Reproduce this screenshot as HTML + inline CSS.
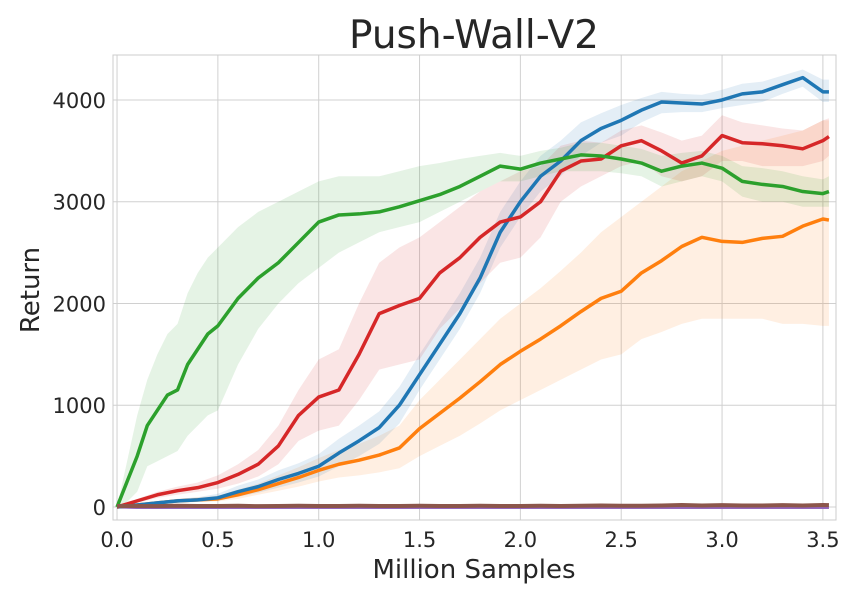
<!DOCTYPE html>
<html><head><meta charset="utf-8"><style>
body{margin:0;background:#fff;}
svg text{font-family:"DejaVu Sans","Liberation Sans",sans-serif;fill:#262626;}
</style></head><body>
<svg id="chart" width="850" height="600" xmlns="http://www.w3.org/2000/svg">
<text x="474" y="48" font-size="39" text-anchor="middle">Push-Wall-V2</text>
<g id="grid"></g><g id="bands"></g><g id="lines"></g><g id="ticks"></g>
<rect x="113" y="55" width="723" height="465" fill="none" stroke="#ccc" stroke-width="1"/>
<text x="474" y="578" font-size="26" text-anchor="middle">Million Samples</text>
<text transform="translate(39,290) rotate(-90)" font-size="26" text-anchor="middle">Return</text>
</svg>
<script>
const xTicks=[0,0.5,1.0,1.5,2.0,2.5,3.0,3.5];
const yTicks=[0,1000,2000,3000,4000];
const xsStd=[0,0.1,0.2,0.3,0.4,0.5,0.6,0.7,0.8,0.9,1.0,1.1,1.2,1.3,1.4,1.5,1.6,1.7,1.8,1.9,2.0,2.1,2.2,2.3,2.4,2.5,2.6,2.7,2.8,2.9,3.0,3.1,3.2,3.3,3.4,3.5,3.53];
const blueMean=[0,20,40,60,70,90,150,200,270,330,400,530,650,780,1000,1300,1600,1900,2250,2700,3000,3250,3400,3600,3720,3800,3900,3980,3970,3960,4000,4060,4080,4150,4220,4080,4080];
const blueLo=[0,10,25,40,50,60,100,140,190,240,300,400,500,620,820,1150,1450,1750,2100,2550,2850,3100,3250,3450,3580,3650,3780,3870,3880,3880,3920,3950,3980,4060,4130,3980,3980];
const blueHi=[0,30,55,80,95,130,210,270,360,430,520,670,800,940,1180,1500,1800,2100,2450,2900,3200,3450,3600,3780,3870,3950,4020,4080,4060,4050,4100,4160,4180,4240,4300,4200,4200];
const orangeMean=[0,20,40,60,70,80,120,170,230,290,360,420,460,510,580,770,920,1070,1230,1400,1530,1650,1780,1920,2050,2120,2300,2420,2560,2650,2610,2600,2640,2660,2760,2830,2820];
const orangeLo=[0,10,25,40,50,55,80,120,160,200,250,290,310,340,380,500,600,700,820,950,1050,1150,1250,1350,1450,1500,1650,1720,1800,1850,1850,1850,1850,1800,1800,1780,1780];
const orangeHi=[0,30,55,80,95,110,170,230,310,390,480,560,620,700,800,1050,1250,1450,1650,1850,2000,2150,2320,2500,2700,2850,3000,3150,3300,3400,3500,3550,3600,3650,3700,3800,3800];
const redMean=[0,60,120,160,190,240,320,420,600,900,1080,1150,1500,1900,1980,2050,2300,2450,2650,2800,2850,3000,3300,3400,3420,3550,3600,3500,3380,3450,3650,3580,3570,3550,3520,3600,3640];
const redLo=[0,40,90,120,150,180,230,300,420,650,750,800,1050,1350,1400,1450,1750,1950,2200,2400,2450,2650,3000,3150,3250,3350,3400,3250,3200,3250,3400,3400,3350,3350,3350,3400,3450];
const redHi=[0,80,150,200,240,310,420,560,800,1150,1450,1550,2000,2400,2550,2650,2800,2950,3100,3200,3300,3350,3550,3600,3580,3700,3750,3680,3600,3650,3850,3780,3750,3720,3700,3800,3820];
const xsGreen=[0,0.05,0.1,0.15,0.2,0.25,0.3,0.35,0.4,0.45,0.5,0.6,0.7,0.8,0.9,1.0,1.1,1.2,1.3,1.4,1.5,1.6,1.7,1.8,1.9,2.0,2.1,2.2,2.3,2.4,2.5,2.6,2.7,2.8,2.9,3.0,3.1,3.2,3.3,3.4,3.5,3.53];
const greenMean=[0,250,500,800,950,1100,1150,1400,1550,1700,1780,2050,2250,2400,2600,2800,2870,2880,2900,2950,3010,3070,3150,3250,3350,3320,3380,3420,3460,3450,3420,3380,3300,3350,3380,3330,3200,3170,3150,3100,3080,3100];
const greenLo=[0,50,150,400,450,500,550,700,800,900,950,1400,1750,2000,2200,2350,2500,2600,2700,2750,2800,2900,3000,3100,3200,3200,3250,3300,3300,3300,3280,3250,3150,3200,3250,3200,3050,3000,3000,2950,2950,2950];
const greenHi=[0,450,900,1250,1500,1700,1800,2100,2300,2450,2550,2750,2900,3000,3100,3200,3250,3250,3250,3300,3350,3380,3420,3450,3480,3450,3500,3530,3580,3580,3550,3520,3450,3480,3500,3450,3350,3330,3300,3250,3220,3250];
const brownMean=[10,10,8,12,10,10,12,8,10,12,10,10,12,10,10,12,10,10,12,10,10,12,10,12,15,12,12,15,20,15,18,15,15,18,15,20,18];
const purpleMean=[0,-5,-5,-5,-5,-5,-5,-5,-5,-5,-5,-5,-5,-5,-5,-5,-5,-5,-5,-5,-5,-5,-5,-5,-5,-5,-5,-5,-5,-5,-5,-5,-5,-5,-5,-5,-5];

const X0=113,X1=836,Y0=55,Y1=520,XMIN=-0.02,XMAX=3.565,YMIN=-128,YMAX=4442;
const sx=v=>X0+(v-XMIN)/(XMAX-XMIN)*(X1-X0);
const sy=v=>Y1-(v-YMIN)/(YMAX-YMIN)*(Y1-Y0);
const NS="http://www.w3.org/2000/svg";
function mk(tag,parent,attrs){const e=document.createElementNS(NS,tag);for(const k in attrs)e.setAttribute(k,attrs[k]);document.getElementById(parent).appendChild(e);return e;}
xTicks.forEach(t=>{
 const l=mk('line','grid',{x1:sx(t),x2:sx(t),y1:Y0,y2:Y1,stroke:'#d0d0d0','stroke-width':1});
 
 
 const tx=mk('text','ticks',{x:sx(t),y:547,'font-size':21,'text-anchor':'middle'});
 tx.textContent=t.toFixed(1);
 
 
});
yTicks.forEach(t=>{
 const l=mk('line','grid',{x1:X0,x2:X1,y1:sy(t),y2:sy(t),stroke:'#d0d0d0','stroke-width':1});
 
 
 const tx=mk('text','ticks',{x:106,y:sy(t)+8,'font-size':21,'text-anchor':'end'});
 tx.textContent=String(t);
 
 
});
function band(xs,lo,hi,color,name){
 let d='M'+xs.map((x,i)=>sx(x)+','+sy(hi[i])).join('L');
 d+='L'+xs.map((x,i)=>sx(x)+','+sy(lo[i])).reverse().join('L')+'Z';
 const p=mk('path','bands',{d:d,fill:color,'fill-opacity':0.12,stroke:'none'});
 
 
}
function line(xs,ys,color,name,w){
 const p=mk('path','lines',{d:'M'+xs.map((x,i)=>sx(x)+','+sy(ys[i])).join('L'),fill:'none',stroke:color,'stroke-width':w,'stroke-linejoin':'round'});
 
 
}
band(xsStd,orangeLo,orangeHi,'#ff7f0e','orange-band');
band(xsStd,blueLo,blueHi,'#1f77b4','blue-band');
band(xsStd,redLo,redHi,'#d62728','red-band');
band(xsGreen,greenLo,greenHi,'#2ca02c','green-band');
line(xsStd,purpleMean,'#9467bd','purple-line',3);
line(xsStd,orangeMean,'#ff7f0e','orange-line',3.5);
line(xsStd,blueMean,'#1f77b4','blue-line',3.5);
line(xsStd,redMean,'#d62728','red-line',3.5);
line(xsGreen,greenMean,'#2ca02c','green-line',3.5);
line(xsStd,brownMean,'#8c564b','brown-line',4);
</script>
</body></html>
